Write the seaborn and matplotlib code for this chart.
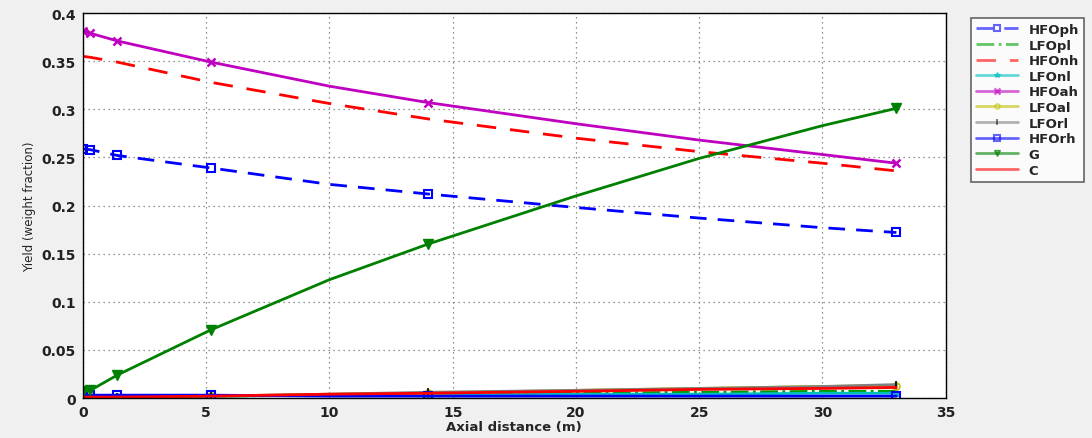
import numpy as np
import pandas as pd
import matplotlib
matplotlib.use("Agg")
import matplotlib.pyplot as plt
import seaborn as sns

# Axial positions (m)
x = [0, 0.3, 1.4, 5.2, 10, 14, 20, 25, 30, 33]
mark_idx = [0, 1, 2, 3, 5, 9]

HFOph = [0.259, 0.258, 0.252, 0.239, 0.222, 0.212, 0.198, 0.187, 0.177, 0.172]
LFOpl = [0.001, 0.001, 0.001, 0.002, 0.003, 0.004, 0.005, 0.006, 0.007, 0.007]
HFOnh = [0.355, 0.354, 0.349, 0.328, 0.306, 0.290, 0.270, 0.256, 0.244, 0.236]
LFOnl = [0.001, 0.001, 0.001, 0.002, 0.003, 0.003, 0.004, 0.004, 0.005, 0.005]
HFOah = [0.381, 0.379, 0.371, 0.349, 0.324, 0.307, 0.285, 0.268, 0.253, 0.244]
LFOal = [0.001, 0.001, 0.001, 0.002, 0.004, 0.005, 0.008, 0.010, 0.012, 0.013]
LFOrl = [0.001, 0.001, 0.001, 0.002, 0.004, 0.006, 0.008, 0.010, 0.012, 0.014]
HFOrh = [0.003, 0.003, 0.003, 0.003, 0.002, 0.002, 0.002, 0.002, 0.002, 0.002]
G     = [0.007, 0.008, 0.024, 0.071, 0.123, 0.160, 0.210, 0.249, 0.283, 0.301]
C     = [0.001, 0.001, 0.001, 0.002, 0.004, 0.005, 0.007, 0.009, 0.010, 0.011]

series = [
    ("HFOph", HFOph, dict(color="#0000ff", ls=(0, (6, 4)), marker="s", mfc="none", ms=6, mew=1.5)),
    ("LFOpl", LFOpl, dict(color="#00a000", ls="-.", marker=None)),
    ("HFOnh", HFOnh, dict(color="#ff0000", ls=(0, (7, 5)), marker=None)),
    ("LFOnl", LFOnl, dict(color="#00bfbf", ls="-", marker="*", ms=6, mew=1)),
    ("HFOah", HFOah, dict(color="#c000c0", ls="-", marker="x", ms=6, mew=1.8)),
    ("LFOal", LFOal, dict(color="#bfbf00", ls="-", marker="o", mfc="none", ms=5, mew=1.2)),
    ("LFOrl", LFOrl, dict(color="#808080", ls="-", marker="|", mec="black", ms=6, mew=1.2)),
    ("HFOrh", HFOrh, dict(color="#0000ff", ls="-", marker="s", mfc="none", ms=6, mew=1.5)),
    ("G", G, dict(color="#008000", ls="-", marker="v", ms=7, mew=1)),
    ("C", C, dict(color="#ff0000", ls="-", marker=None)),
]

sns.set_style("white")
plt.rcParams["font.family"] = ["DejaVu Sans"]

fig = plt.figure(figsize=(10.92, 4.39), dpi=100, facecolor="#f0f0f0")
ax = fig.add_axes([0.076, 0.091, 0.790, 0.877])
ax.set_facecolor("white")

for name, vals, st in series:
    st = dict(st)
    marker = st.pop("marker")
    kw = dict(lw=2, label=name)
    if marker is not None:
        kw["marker"] = marker
        kw["markevery"] = mark_idx
        kw["mec"] = st.pop("mec", st["color"])
        kw["mew"] = st.pop("mew", 1)
    kw.update(st)
    sns.lineplot(x=x, y=vals, ax=ax, sort=False, estimator=None, **kw)

ax.set_xlim(0, 35)
ax.set_ylim(0, 0.4)
ax.set_xticks(np.arange(0, 36, 5))
ax.set_yticks(np.arange(0, 0.41, 0.05))
ax.set_yticklabels(["0", "0.05", "0.1", "0.15", "0.2", "0.25", "0.3", "0.35", "0.4"])
ax.grid(True, ls=(0, (1, 3)), color="#707070", lw=0.9)
for s in ax.spines.values():
    s.set_color("black")
    s.set_linewidth(1)
ax.tick_params(labelsize=10, length=0, pad=5)
for lab in ax.get_xticklabels() + ax.get_yticklabels():
    lab.set_fontweight("bold")
    lab.set_color("#222222")
ax.set_xlabel("Axial distance (m)", fontsize=9.5, fontweight="bold", labelpad=1)
ax.set_ylabel("Yield (weight fraction)", fontsize=8.5, labelpad=4)

ax.legend(loc="upper left", bbox_to_anchor=(964 / 1092, 1 - 12 / 439),
          bbox_transform=fig.transFigure, frameon=True, fancybox=False,
          edgecolor="#404040", handlelength=3.2, markerscale=0.7,
          labelspacing=0.2, borderpad=0.4, prop=dict(weight="bold", size=9.5))
leg = ax.get_legend()
leg.get_frame().set_linewidth(1.2)
for h in leg.get_lines():
    h.set_alpha(0.6)

fig.savefig("out.png", dpi=100, facecolor=fig.get_facecolor())
